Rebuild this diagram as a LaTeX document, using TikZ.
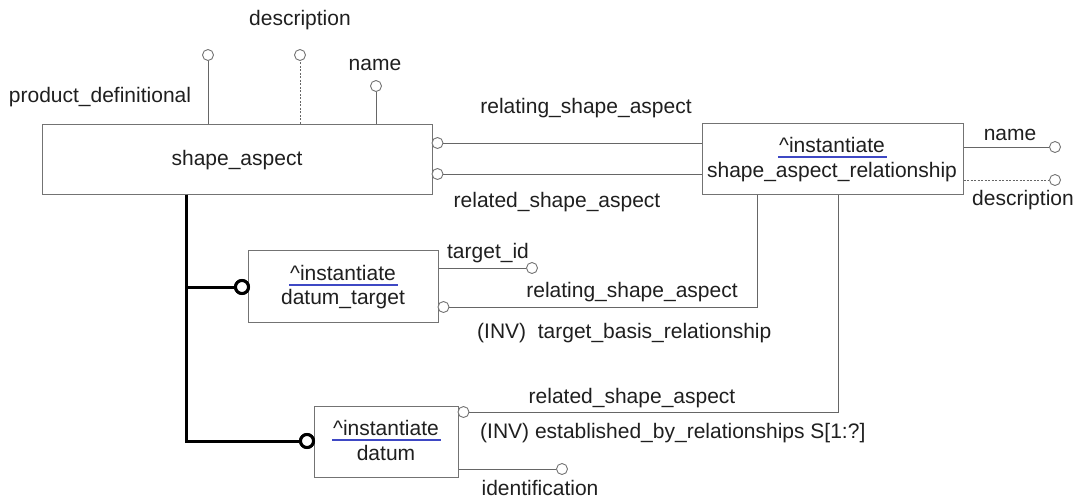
\documentclass[tikz,border=0pt]{standalone}
\usepackage{fontspec}
\setmainfont{Liberation Sans}
\definecolor{ulblue}{RGB}{62,72,196}
\begin{document}
\begin{tikzpicture}[x=1pt,y=-1pt,
  every node/.style={font=\fontsize{21}{24}\selectfont, text=black!88},
  entity/.style={rectangle, draw=black!55, line width=1pt, fill=white, inner sep=0pt},
  attr/.style={circle, draw=black!55, line width=0.9pt, fill=white, minimum size=11pt, inner sep=0pt},
  subc/.style={circle, draw=black, line width=3pt, fill=white, minimum size=13pt, inner sep=0pt},
  conn/.style={draw=black!60, line width=0.9pt},
  optconn/.style={draw=black!60, line width=0.8pt, dash pattern=on 2pt off 1.5pt},
  supline/.style={draw=black, line width=3pt},
  uline/.style={draw=ulblue, line width=2.2pt},
  lbl/.style={inner sep=0pt},
]
\useasboundingbox (0,0) rectangle (1083,499);

% entities
\node[entity, minimum width=390pt, minimum height=70pt] (sa) at (237,159) {};
\node[lbl] (saN) at (237,160) {shape\_aspect};

\node[entity, minimum width=261pt, minimum height=71pt] (sar) at (832.5,158.5) {};
\node[lbl] (sarI) at (832,145) {\textasciicircum instantiate};
\node[lbl] (sarN) at (832,172) {shape\_aspect\_relationship};

\node[entity, minimum width=190pt, minimum height=72pt] (dt) at (343,286) {};
\node[lbl] (dtI) at (343,273) {\textasciicircum instantiate};
\node[lbl] (dtN) at (343,299) {datum\_target};

\node[entity, minimum width=144pt, minimum height=71pt] (dm) at (386,441.5) {};
\node[lbl] (dmI) at (386,428) {\textasciicircum instantiate};
\node[lbl] (dmN) at (386,453) {datum};

% underlines
\draw[uline] ([yshift=-4pt,xshift=-1pt]sarI.south west) -- ([yshift=-4pt,xshift=2pt]sarI.south east);
\draw[uline] ([yshift=-4pt,xshift=-1pt]dtI.south west) -- ([yshift=-4pt,xshift=2pt]dtI.south east);
\draw[uline] ([yshift=-4pt,xshift=-1pt]dmI.south west) -- ([yshift=-4pt,xshift=2pt]dmI.south east);

% attribute circles
\node[attr] (pdC) at (208,55) {};
\node[attr] (desC) at (300,55) {};
\node[attr] (nameC) at (376,86) {};
\node[attr] (relC1) at (437.5,143) {};
\node[attr] (relC2) at (437.5,174) {};
\node[attr] (sarNameC) at (1055,147) {};
\node[attr] (sarDescC) at (1055,180) {};
\node[attr] (tidC) at (532,268) {};
\node[attr] (dtRelC) at (443.5,307) {};
\node[attr] (dRelC) at (463.5,412) {};
\node[attr] (idC) at (562,469) {};

% subtype circles
\node[subc] (subDT) at (242,287) {};
\node[subc] (subD) at (307,441) {};

% helper coordinates
\coordinate (spine) at (186,0);
\coordinate (sarB1) at (757,0);
\coordinate (sarB2) at (838,0);

% connectors
\draw[conn] (sa.north -| pdC) -- (pdC);
\draw[optconn] (sa.north -| desC) -- (desC);
\draw[conn] (sa.north -| nameC) -- (nameC);
\draw[conn] (relC1) -- (relC1 -| sar.west);
\draw[conn] (relC2) -- (relC2 -| sar.west);
\draw[conn] (sar.east |- sarNameC) -- (sarNameC);
\draw[optconn] (sar.east |- sarDescC) -- (sarDescC);
\draw[conn] (dt.east |- tidC) -- (tidC);
\draw[conn] (sar.south -| sarB1) |- (dtRelC);
\draw[conn] (sar.south -| sarB2) |- (dRelC);
\draw[conn] (dm.east |- idC) -- (idC);
\draw[supline] (sa.south -| spine) |- (subDT);
\draw[supline] (sa.south -| spine) |- (subD);
\node[subc] at (subDT) {};
\node[subc] at (subD) {};

% labels
\node[lbl] (lPd) at (100,97) {product\_definitional};
\node[lbl] (lDes) at (300,20) {description};
\node[lbl] (lName) at (375,65) {name};
\node[lbl] (lRel1) at (586,108) {relating\_shape\_aspect};
\node[lbl] (lRel2) at (557,202) {related\_shape\_aspect};
\node[lbl] (lSarName) at (1010,135) {name};
\node[lbl] (lSarDes) at (1023,200) {description};
\node[lbl] (lTid) at (488,253) {target\_id};
\node[lbl] (lRel3) at (632,292) {relating\_shape\_aspect};
\node[lbl, anchor=west] (lInv1) at (477,333) {(INV)\ \ target\_basis\_relationship};
\node[lbl] (lRel4) at (632,398) {related\_shape\_aspect};
\node[lbl, anchor=west] (lInv2) at (480,433) {(INV) established\_by\_relationships S[1:?]};
\node[lbl] (lId) at (540,488) {identification};
\end{tikzpicture}
\end{document}
